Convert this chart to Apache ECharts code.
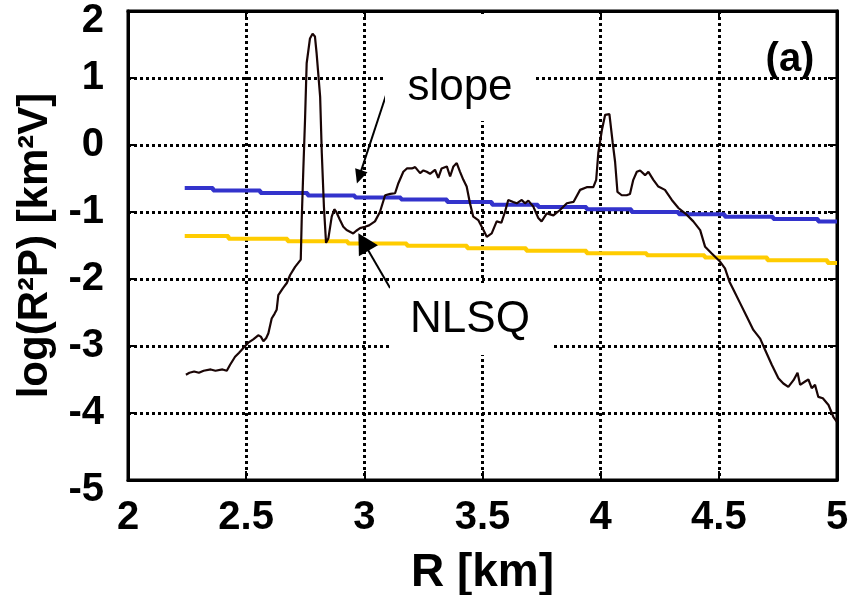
<!DOCTYPE html>
<html>
<head>
<meta charset="utf-8">
<script src="https://cdn.jsdelivr.net/npm/echarts@6/dist/echarts.min.js"></script>
<style>
  html, body { margin: 0; padding: 0; background: #fff; }
  #chart { width: 848px; height: 595px; }
</style>
</head>
<body>
<div id="chart"></div>
<script>
// Range-corrected power log(R^2 P) along the profile
const powerR = [2.245, 2.26, 2.28, 2.30, 2.32, 2.35, 2.37, 2.40, 2.418, 2.432, 2.453, 2.47, 2.488, 2.509, 2.53, 2.551, 2.562, 2.573, 2.585, 2.594,
  2.608, 2.62, 2.629, 2.636, 2.655, 2.672, 2.686, 2.707, 2.731, 2.735, 2.742, 2.749, 2.756, 2.770, 2.781, 2.791, 2.798, 2.813, 2.820, 2.829,
  2.838, 2.848, 2.862, 2.873, 2.880, 2.897, 2.911, 2.925, 2.932, 2.953, 2.966, 2.982, 3.003, 3.020, 3.045, 3.066, 3.088, 3.110, 3.130, 3.144,
  3.165, 3.180, 3.201, 3.215, 3.236, 3.250, 3.264, 3.278, 3.299, 3.313, 3.327, 3.349, 3.363, 3.377, 3.391, 3.405, 3.419, 3.433, 3.447, 3.461,
  3.482, 3.504, 3.518, 3.539, 3.560, 3.580, 3.595, 3.609, 3.630, 3.645, 3.666, 3.680, 3.694, 3.715, 3.736, 3.750, 3.772, 3.800, 3.828, 3.857,
  3.885, 3.913, 3.941, 3.969, 3.981, 3.990, 4.005, 4.019, 4.037, 4.051, 4.061, 4.071, 4.089, 4.110, 4.124, 4.138, 4.153, 4.167, 4.188, 4.202,
  4.223, 4.244, 4.272, 4.301, 4.329, 4.364, 4.392, 4.421, 4.442, 4.470, 4.505, 4.526, 4.545, 4.562, 4.590, 4.618, 4.646, 4.675, 4.696, 4.724,
  4.752, 4.773, 4.794, 4.816, 4.833, 4.844, 4.865, 4.879, 4.893, 4.907, 4.921, 4.940, 4.964, 4.985, 4.999];
const powerLog = [-3.43, -3.40, -3.38, -3.40, -3.37, -3.35, -3.37, -3.35, -3.37, -3.28, -3.16, -3.10, -3.03, -2.95, -2.90, -2.84, -2.86, -2.93, -2.88, -2.81,
  -2.59, -2.52, -2.46, -2.24, -2.14, -2.06, -1.94, -1.82, -1.71, -1.12, -0.35, 0.37, 1.22, 1.59, 1.66, 1.62, 1.37, 0.72, -0.12, -0.92,
  -1.46, -1.39, -1.07, -0.96, -0.99, -1.12, -1.22, -1.27, -1.29, -1.32, -1.28, -1.24, -1.22, -1.20, -1.14, -1.00, -0.75, -0.73, -0.72, -0.57,
  -0.40, -0.35, -0.35, -0.33, -0.42, -0.38, -0.40, -0.43, -0.37, -0.49, -0.35, -0.32, -0.47, -0.32, -0.27, -0.40, -0.52, -0.62, -0.87, -1.07,
  -1.12, -1.27, -1.37, -1.32, -1.14, -1.16, -1.00, -0.82, -0.85, -0.87, -0.82, -0.87, -0.83, -0.92, -1.09, -1.14, -1.02, -1.05, -0.97, -0.87,
  -0.85, -0.67, -0.63, -0.63, -0.52, -0.12, 0.22, 0.45, 0.46, 0.03, -0.25, -0.70, -0.75, -0.75, -0.73, -0.52, -0.40, -0.38, -0.45, -0.40,
  -0.52, -0.62, -0.67, -0.82, -0.94, -1.04, -1.14, -1.27, -1.52, -1.62, -1.74, -1.84, -2.04, -2.16, -2.36, -2.56, -2.76, -2.89, -3.06, -3.28,
  -3.48, -3.56, -3.61, -3.51, -3.40, -3.58, -3.53, -3.50, -3.63, -3.58, -3.76, -3.78, -3.88, -4.06, -4.13];

// Fitted levels: each value holds from its start R until the next one
const slopeStartR = [2.24, 2.36, 2.56, 2.76, 2.96, 3.155, 3.35, 3.54, 3.735, 3.94, 4.13, 4.33, 4.525, 4.73, 4.92];
const slopeLevel  = [-0.64, -0.68, -0.715, -0.755, -0.785, -0.815, -0.85, -0.89, -0.925, -0.96, -1.0, -1.035, -1.07, -1.105, -1.14];
const nlsqStartR  = [2.24, 2.425, 2.675, 2.93, 3.18, 3.435, 3.685, 3.94, 4.195, 4.44, 4.705, 4.96];
const nlsqLevel   = [-1.36, -1.40, -1.435, -1.47, -1.505, -1.54, -1.58, -1.615, -1.645, -1.68, -1.72, -1.76];
const rEnd = 5;

// Axis ticks
const rTicks = [2, 2.5, 3, 3.5, 4, 4.5, 5];
const logTicks = [-5, -4, -3, -2, -1, 0, 1, 2];

// Arrow annotations: [tail, head] in data units
const slopeArrow = [[3.092, 0.746], [2.978, -0.475]];
const nlsqArrow  = [[3.109, -2.134], [2.996, -1.448]];

function zip(xs, ys) { return xs.map((x, i) => [x, ys[i]]); }
function steps(xs, ys) {
  const d = zip(xs, ys);
  d.push([rEnd, ys[ys.length - 1]]);
  return d;
}

const FONT = '"Liberation Sans", Arial, sans-serif';

const chart = echarts.init(document.getElementById('chart'), null, { renderer: 'canvas' });

const gridLine = { show: true, lineStyle: { color: '#000', width: 3, type: [3, 3] } };
const frameLine = { show: true, onZero: false, lineStyle: { color: '#000', width: 3 } };
const innerTick = { show: true, inside: true, length: 9, lineStyle: { color: '#000', width: 2 } };
const tickFont = { fontFamily: FONT, fontWeight: 'bold', fontSize: 40, color: '#000' };

chart.setOption({
  animation: false,
  backgroundColor: '#fff',
  grid: {
    left: 128, right: 11, top: 11, bottom: 115,
    outerBoundsMode: 'none', containLabel: false,
    show: true, borderColor: '#000', borderWidth: 3, backgroundColor: 'transparent'
  },
  xAxis: [{
    type: 'value', min: rTicks[0], max: rTicks[rTicks.length - 1], interval: 0.5,
    name: 'R [km]', nameLocation: 'middle', nameGap: 70,
    nameTextStyle: { fontFamily: FONT, fontWeight: 'bold', fontSize: 46, color: '#000' },
    axisLine: frameLine, axisTick: innerTick,
    axisLabel: Object.assign({ margin: 18, formatter: v => String(v) }, tickFont),
    splitLine: gridLine
  }, {
    type: 'value', position: 'top', min: rTicks[0], max: rTicks[rTicks.length - 1], interval: 0.5,
    axisLine: frameLine, axisTick: innerTick,
    axisLabel: { show: false }, splitLine: { show: false }
  }],
  yAxis: [{
    type: 'value', min: logTicks[0], max: logTicks[logTicks.length - 1], interval: 1,
    name: 'log(R²P) [km²V]', nameLocation: 'middle', nameGap: 72, nameRotate: 90,
    nameTextStyle: { fontFamily: FONT, fontWeight: 'bold', fontSize: 42, color: '#000' },
    axisLine: frameLine, axisTick: innerTick,
    axisLabel: Object.assign({
      margin: 24,
      // end labels sit a little below their ticks
      formatter: v => (v === logTicks[0] || v === logTicks[logTicks.length - 1]) ? '{low|' + v + '}' : String(v),
      rich: { low: Object.assign({ padding: [20, 0, 0, 0] }, tickFont) }
    }, tickFont),
    splitLine: gridLine
  }, {
    type: 'value', position: 'right', min: logTicks[0], max: logTicks[logTicks.length - 1], interval: 1,
    axisLine: frameLine, axisTick: innerTick,
    axisLabel: { show: false }, splitLine: { show: false }
  }],
  graphic: [
    { type: 'rect', z: 100, shape: { x: 385, y: 14, width: 148, height: 107 }, style: { fill: '#fff' } },
    { type: 'text', z: 101, x: 460, y: 88, style: { text: 'slope', font: 'normal 44px ' + FONT, fill: '#000', align: 'center', verticalAlign: 'middle' } },
    { type: 'rect', z: 100, shape: { x: 390, y: 283, width: 162, height: 72 }, style: { fill: '#fff' } },
    { type: 'text', z: 101, x: 470, y: 320, style: { text: 'NLSQ', font: 'normal 44px ' + FONT, fill: '#000', align: 'center', verticalAlign: 'middle' } },
    { type: 'text', z: 101, x: 790, y: 60, style: { text: '(a)', font: 'bold 40px ' + FONT, fill: '#000', align: 'center', verticalAlign: 'middle' } }
  ],
  series: [
    {
      name: 'slope', type: 'line', step: 'end', data: steps(slopeStartR, slopeLevel),
      showSymbol: false, lineStyle: { color: '#3333cc', width: 4 }, z: 3
    },
    {
      name: 'NLSQ', type: 'line', step: 'end', data: steps(nlsqStartR, nlsqLevel),
      showSymbol: false, lineStyle: { color: '#ffcc00', width: 4 }, z: 3
    },
    {
      name: 'log(R²P)', type: 'line', data: zip(powerR, powerLog),
      showSymbol: false, lineStyle: { color: '#1a0505', width: 2.2 }, z: 4,
      markLine: {
        silent: true, animation: false,
        label: { show: false },
        lineStyle: { color: '#000', width: 2, type: 'solid' },
        data: [
          [{ coord: slopeArrow[0], symbol: 'none' }, { coord: slopeArrow[1], symbol: 'triangle', symbolSize: [13, 14] }],
          [{ coord: nlsqArrow[0], symbol: 'none' }, { coord: nlsqArrow[1], symbol: 'triangle', symbolSize: [22, 20] }]
        ],
        itemStyle: { color: '#000' }
      }
    }
  ]
});
</script>
</body>
</html>
